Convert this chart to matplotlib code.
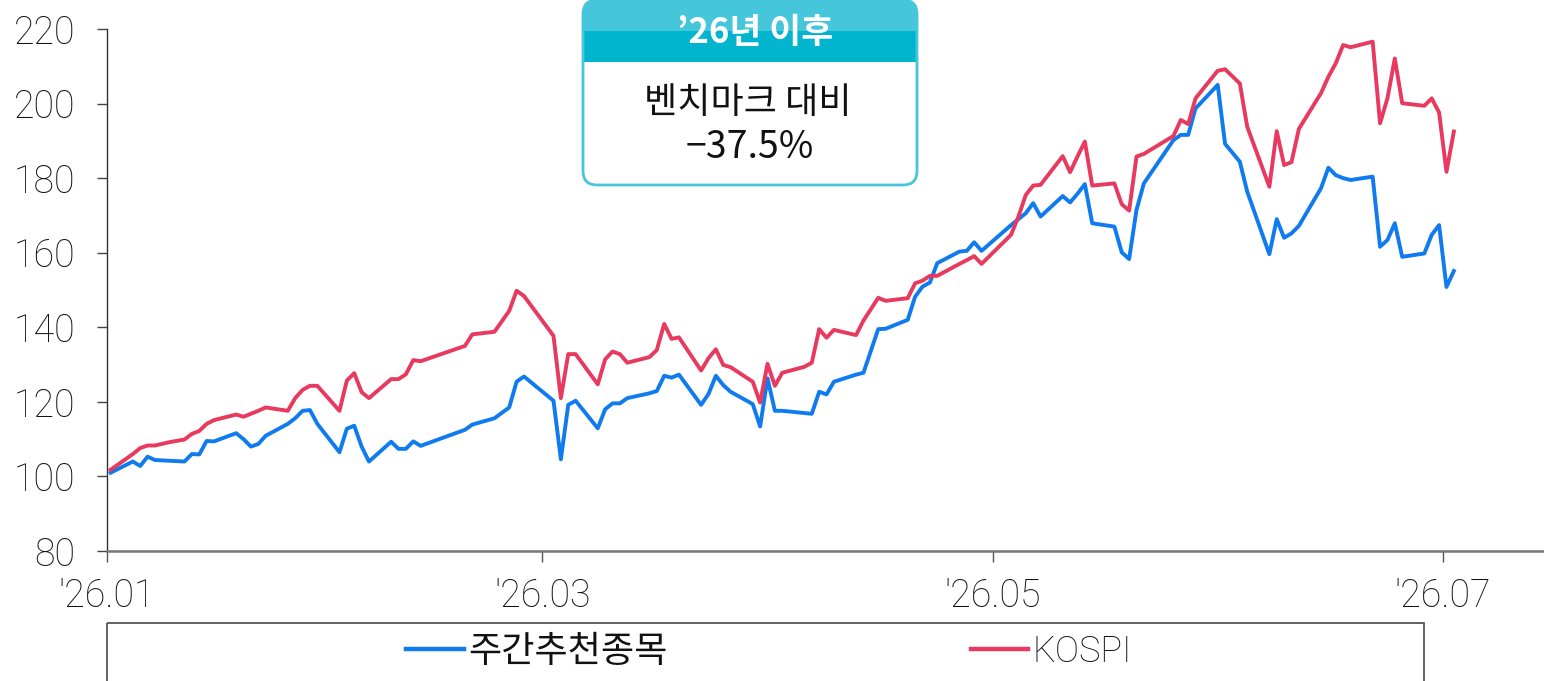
import numpy as np
import matplotlib
matplotlib.use('Agg')
import matplotlib.pyplot as plt
from matplotlib.patches import FancyBboxPatch, Rectangle
from matplotlib.font_manager import FontProperties

plt.rcParams['font.family'] = ['Roboto', 'Noto Sans CJK KR', 'DejaVu Sans']

# 2026-01-01 기준 경과일
days = [0, 3, 4, 5, 6, 8, 10, 11, 12, 13, 14, 17, 18, 19, 20, 21, 24, 25, 26, 27,
        28, 31, 32, 33, 34, 35, 38, 39, 40, 41, 42, 48, 49, 52, 54, 55, 56, 60, 61, 62,
        63, 66, 67, 68, 69, 70, 73, 74, 75, 76, 77, 80, 81, 82, 83, 84, 87, 88, 89, 90,
        91, 94, 95, 96, 97, 98, 101, 102, 104, 105, 108, 109, 110, 111, 112, 115, 116, 117, 118, 122,
        123, 124, 125, 126, 129, 130, 131, 132, 133, 136, 137, 138, 139, 140, 144, 145, 146, 147, 150, 151,
        153, 154, 157, 158, 159, 160, 161, 164, 165, 166, 167, 168, 171, 172, 173, 174, 175, 178, 179, 180,
        181, 182]

weekly_pick = [101.0, 104.0, 102.8, 105.3, 104.4, 104.2, 104.0, 106.0, 105.9, 109.5, 109.4, 111.6, 110.0, 108.0, 108.7, 110.9, 114.1, 115.6, 117.6, 117.8,
               114.1, 106.5, 112.8, 113.6, 108.0, 104.0, 109.3, 107.4, 107.4, 109.4, 108.2, 112.5, 113.9, 115.6, 118.5, 125.4, 126.8, 120.3, 104.6, 119.2,
               120.3, 112.9, 118.0, 119.6, 119.6, 121.0, 122.3, 122.9, 127.0, 126.5, 127.3, 119.2, 122.1, 127.0, 124.5, 122.7, 119.4, 113.4, 126.3, 117.6,
               117.6, 117.0, 116.8, 122.7, 122.0, 125.4, 127.3, 127.8, 139.5, 139.6, 142.0, 148.2, 150.9, 152.0, 157.2, 160.3, 160.5, 162.8, 160.5, 167.4,
               169.0, 170.6, 173.3, 169.7, 175.2, 173.5, 175.8, 178.4, 167.9, 167.0, 160.1, 158.3, 171.5, 178.6, 190.2, 191.6, 191.6, 198.7, 205.0, 189.2,
               184.4, 176.4, 159.6, 169.0, 164.0, 165.2, 167.2, 177.3, 182.8, 180.8, 180.0, 179.5, 180.4, 161.6, 163.4, 167.9, 158.9, 159.8, 164.8, 167.4,
               150.8, 155.1]

kospi = [101.8, 106.0, 107.6, 108.3, 108.3, 109.2, 109.9, 111.4, 112.2, 114.1, 115.1, 116.6, 116.0, 116.8, 117.6, 118.5, 117.6, 121.0, 123.2, 124.3,
         124.3, 117.6, 125.7, 127.7, 122.6, 121.0, 126.1, 126.1, 127.4, 131.2, 130.9, 135.0, 138.1, 138.8, 144.4, 149.8, 148.4, 137.7, 121.0, 132.8,
         132.8, 124.7, 131.4, 133.5, 132.8, 130.5, 132.0, 133.9, 140.9, 136.9, 137.3, 128.4, 131.7, 134.1, 129.9, 129.3, 125.4, 119.8, 130.2, 124.3,
         127.8, 129.4, 130.5, 139.5, 137.2, 139.3, 137.9, 141.8, 147.9, 147.1, 147.8, 151.8, 152.5, 153.8, 153.8, 157.0, 158.0, 159.1, 157.0, 164.8,
         169.7, 175.5, 178.0, 178.2, 185.9, 181.6, 185.8, 189.8, 178.0, 178.6, 173.0, 171.3, 185.8, 186.5, 191.3, 195.6, 194.5, 201.4, 208.8, 209.2,
         205.4, 193.8, 177.7, 192.6, 183.5, 184.3, 193.2, 202.8, 207.2, 210.8, 215.7, 215.1, 216.6, 194.7, 201.4, 212.1, 200.1, 199.4, 201.4, 197.6,
         181.7, 192.5]

tick_days = [0, 59, 120, 181]
tick_labels = ["'26.01", "'26.03", "'26.05", "'26.07"]
y_ticks = [80, 100, 120, 140, 160, 180, 200, 220]

W, H = 1544, 681
fig = plt.figure(figsize=(W / 100, H / 100), dpi=100)
ax = fig.add_axes([107 / W, 130 / H, 1 - 107 / W, (551 - 29) / H])

x = np.array(days) + 0.5
ax.plot(x, weekly_pick, color='#0F7BEF', lw=2.8, label='주간추천종목', solid_joinstyle='round')
ax.plot(x, kospi, color='#E8395F', lw=2.8, label='KOSPI', solid_joinstyle='round')

ax.set_xlim(0, (W - 107) / 7.38)
ax.set_ylim(80, 220)
ax.set_xticks(tick_days)
ax.set_xticklabels(tick_labels)
ax.set_yticks(y_ticks)

for s in ['top', 'right']:
    ax.spines[s].set_visible(False)
ax.spines['left'].set_color('#333333')
ax.spines['left'].set_linewidth(1.0)
ax.spines['bottom'].set_color('#777777')
ax.spines['bottom'].set_linewidth(1.8)

ax.tick_params(axis='y', length=7, width=1, color='#444444', pad=16,
               labelsize=27, labelcolor='#111111')
ax.tick_params(axis='x', length=8, width=1, color='#555555', pad=11,
               labelsize=27, labelcolor='#111111')
for lab in ax.get_xticklabels() + ax.get_yticklabels():
    lab.set_fontweight('light')

# 오버레이 (픽셀 좌표)
ov = fig.add_axes([0, 0, 1, 1])
ov.set_xlim(0, W)
ov.set_ylim(H, 0)
ov.axis('off')

light_teal = '#45C6DA'
dark_teal = '#00B5CD'
body = FancyBboxPatch((583, 0), 334, 185, boxstyle='round,pad=0,rounding_size=14',
                      facecolor='white', edgecolor='none')
ov.add_patch(body)
top_band = FancyBboxPatch((583, 0), 334, 50, boxstyle='round,pad=0,rounding_size=14',
                          facecolor=light_teal, edgecolor='none')
ov.add_patch(top_band)
ov.add_patch(Rectangle((583, 31), 334, 31, facecolor=dark_teal, edgecolor='none'))
border = FancyBboxPatch((583, 0), 334, 185, boxstyle='round,pad=0,rounding_size=14',
                        facecolor='none', edgecolor=light_teal, lw=2)
ov.add_patch(border)

ov.text(755, 33, '\u201926년 이후', ha='center', va='center', color='white',
        fontsize=25, fontweight='bold', family=['Noto Sans CJK KR', 'DejaVu Sans'])
ov.text(748, 103, '벤치마크 대비', ha='center', va='center', color='#111111',
        fontsize=26, family=['Noto Sans CJK KR', 'DejaVu Sans'])
ov.text(750, 148, '\u221237.5%', ha='center', va='center', color='#111111',
        fontsize=27, family=['Noto Sans CJK KR', 'DejaVu Sans'])

# 범례 박스
ov.add_patch(Rectangle((107, 623), 1424 - 107, 100, facecolor='none',
                       edgecolor='#555555', lw=1.3))
leg = fig.legend(loc='center', bbox_to_anchor=(769 / W, (H - 652) / H), ncol=2, frameon=False,
                 fontsize=26, handlelength=1.6, handletextpad=0.1, columnspacing=8.4)
for line in leg.get_lines():
    line.set_linewidth(3.2)
t_kr, t_en = leg.get_texts()
t_kr.set_fontproperties(FontProperties(family=['Noto Sans CJK KR', 'DejaVu Sans'],
                                       size=26, weight='normal'))
t_en.set_fontproperties(FontProperties(family=['Roboto', 'DejaVu Sans'],
                                       size=26, weight='light'))
t_kr.set_color('#111111')
t_en.set_color('#111111')

fig.savefig('out.png', dpi=100)
